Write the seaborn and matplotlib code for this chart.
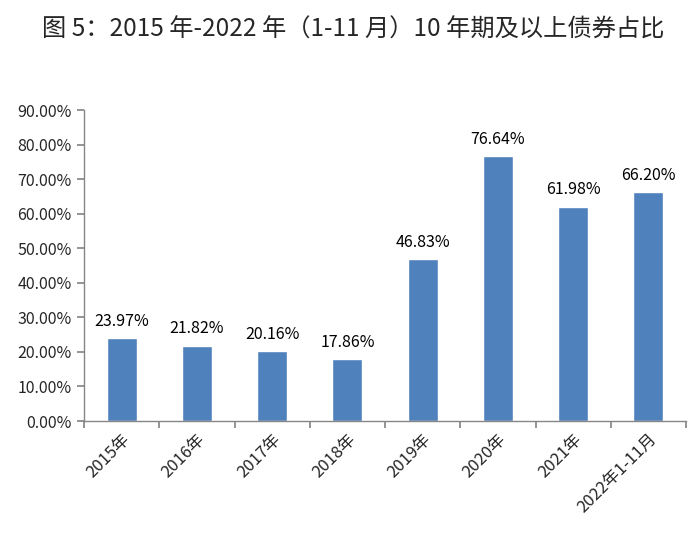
import numpy as np
import pandas as pd
import seaborn as sns
import matplotlib.pyplot as plt
from matplotlib.ticker import FuncFormatter

categories = ['2015年', '2016年', '2017年', '2018年', '2019年', '2020年', '2021年', '2022年1-11月']
shares = [23.97, 21.82, 20.16, 17.86, 46.83, 76.64, 61.98, 66.20]
yticks = [0, 10, 20, 30, 40, 50, 60, 70, 80, 90]

df = pd.DataFrame({'year': categories, 'share': shares})

sns.set_theme(style='white')
plt.rcParams['font.family'] = ['Noto Sans CJK SC', 'DejaVu Sans']

fig = plt.figure(figsize=(7, 5.37), dpi=100)
ax = fig.add_axes([0.12, 0.216, 0.86, 0.579])

sns.barplot(data=df, x='year', y='share', color='#4F81BD', width=0.4,
            saturation=1, ax=ax)

for i, v in enumerate(shares):
    ax.text(i, v + 2.5, f'{v:.2f}%', ha='center', va='bottom', fontsize=11.5,
            color='black')

ax.set_ylim(0, 90)
ax.set_xlim(-0.5, len(categories) - 0.5)
ax.set_yticks(yticks)
ax.yaxis.set_major_formatter(FuncFormatter(lambda v, p: f'{v:.2f}%'))
ax.set_xlabel('')
ax.set_ylabel('')

# ticks at the category boundaries, labels in the middle
ax.set_xticks(np.arange(-0.5, len(categories), 1))
ax.set_xticklabels([])
ax.set_xticks(range(len(categories)), minor=True)
ax.set_xticklabels(categories, minor=True, rotation=45, ha='right',
                   rotation_mode='anchor', fontsize=12)
ax.tick_params(axis='x', which='minor', length=0, pad=7)
ax.tick_params(axis='x', which='major', length=5, color='#868686',
               direction='out', bottom=True)
ax.tick_params(axis='y', length=5, color='#868686', direction='out', left=True,
               labelsize=11.5, pad=4)

for side in ['top', 'right']:
    ax.spines[side].set_visible(False)
for side in ['left', 'bottom']:
    ax.spines[side].set_color('#868686')
    ax.spines[side].set_linewidth(1)

fig.text(0.505, 0.944, '图 5：2015 年-2022 年（1-11 月）10 年期及以上债券占比',
         ha='center', va='center', fontsize=17.5, fontweight='medium')

fig.savefig('out.png', dpi=100)
